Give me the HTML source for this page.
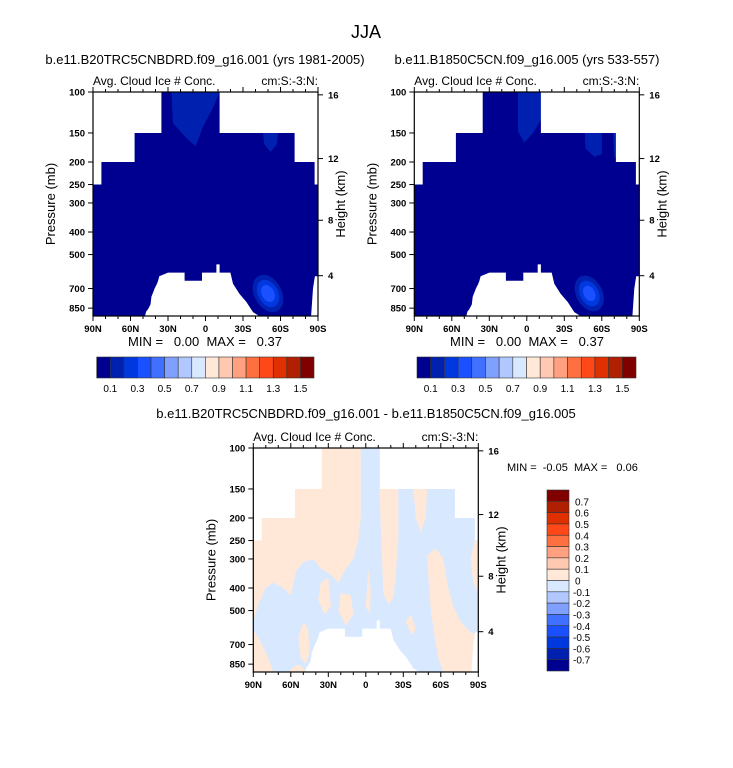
<!DOCTYPE html>
<html><head><meta charset="utf-8"><style>
html,body{margin:0;padding:0;background:#fff;}
svg{display:block;font-family:"Liberation Sans",Arial,sans-serif;}
.pre{white-space:pre;}
</style></head><body>
<svg id="chart" width="733" height="768" viewBox="0 0 733 768" xmlns="http://www.w3.org/2000/svg"></svg>
<script>
// ---- data ----
const pressureTicks = [100,150,200,250,300,400,500,700,850];
const heightTicks = [4,8,12,16];
const latTicks = [90,60,30,0,-30,-60,-90];
const latTickLabels = ["90N","60N","30N","0","30S","60S","90S"];
const levelColors = ["#000090","#0020b0","#0038e0","#1a50ff","#4070ff","#80a0ff","#b0c8ff","#d8e8ff","#ffe8d8","#ffc8b0","#ffa080","#ff7040","#ff4818","#e03000","#b02000","#800000"];
const absLabels = ["0.1","0.3","0.5","0.7","0.9","1.1","1.3","1.5"];
const diffLabels = ["0.7","0.6","0.5","0.4","0.3","0.2","0.1","0","-0.1","-0.2","-0.3","-0.4","-0.5","-0.6","-0.7"];
// masks (lat, pressure)
const topMaskLat = [[35.3,-11.3],[56.7,-71.3],[83.3,-87.3]];
const topMaskP = [[100,150],[150,200],[200,250]];
const mountain = [[48.4,920],[47.5,880],[46,860],[44,820],[43.3,760],[42,730],[40.7,700],[39,670],[38,650],[37,620],[30,598],[16.7,598],[16.7,648],[2.8,648],[2.8,598],[-8.7,598],[-8.7,551],[-11.3,551],[-11.3,598],[-19.9,598],[-22,667],[-27,736],[-32.7,800],[-38,884],[-43,920]];
const southEdge = [[-87.5,620],[-86,700],[-84.5,920],[-91,920],[-91,620]];
// model 1 features
const m1TopBlob = [[27.3,100],[26,136],[15.3,158],[7.9,171],[2,141],[-6,117],[-11.3,100]];
const m1RightBlob = [[-46,150],[-47,168],[-52,181],[-57,168],[-58,150]];
// model 2 features
const m2TopBlob = [[7,100],[-12.7,100],[-12,130],[-5,150],[2,165],[7,148]];
const m2RightBlob = [[-46.5,150],[-47,175],[-54,190],[-60,185],[-60,150]];
const m2RightBlob2 = [[-69,150],[-70,190],[-75,200],[-76,150]];
// low-level blob
const blobLat = -50, blobP = 735;
const blobRings = [[11,1],[8,2],[5,3]];
const blobMaxRing2 = [[10.5,1],[7.5,2],[4.5,3]];
// difference plot: peach (positive) regions over blue (negative) base
const diffPeach = [
 [[4,100],[4,200],[6,250],[10,300],[16,330],[22,380],[28,350],[36,330],[42,300],[50,310],[56,340],[60,430],[66,400],[74,380],[80,400],[86,470],[90,560],[90,100]],
 [[-11,100],[-11,160],[-13,300],[-14,420],[-18,470],[-22,440],[-24,350],[-26,250],[-26,100]],
 [[-38,150],[-40,200],[-44,230],[-48,200],[-49,150]],
 [[-49,290],[-56,270],[-62,300],[-66,400],[-70,480],[-76,560],[-84,620],[-90,640],[-90,920],[-62,920],[-58,800],[-55,650],[-52,500],[-50,350]],
 [[-87,250],[-84,300],[-86,380],[-90,420],[-90,250]],
 [[90,610],[86,650],[82,720],[78,800],[74,920],[90,920]],
 [[62,920],[56,860],[52,860],[48,920]],
 [[50,560],[46,600],[45,750],[48,850],[52,800],[54,650]],
 [[36,380],[30,360],[28,480],[33,520],[38,450]],
 [[20,420],[12,430],[10,520],[16,580],[22,500]],
 [[-2,330],[-4,420],[-3,520],[0,480]],
 [[-32,560],[-36,520],[-40,600],[-37,640]]
];
const diffBlueExtra = [[[84,200],[80,200],[80,215],[84,230]]];

// ---- drawing ----
const NS="http://www.w3.org/2000/svg";
const svg=document.getElementById('chart');
function el(tag,attrs,parent){const e=document.createElementNS(NS,tag);for(const k in attrs)e.setAttribute(k,attrs[k]);(parent||svg).appendChild(e);return e;}
function txt(s,x,y,size,anchor,parent,extra){const t=el('text',Object.assign({x:x,y:y,'font-size':size,'text-anchor':anchor||'start',fill:'#000'},extra||{}),parent);t.textContent=s;return t;}
function zToP(z){return z<=11?1013.25*Math.pow(1-z/44.33,5.256):226.3*Math.exp(-(z-11)/6.34);}

let clipId=0;
function makePlot(ox,oy,name){
  const W=225,H=224,K=101;
  const xs=lat=>ox+(90-lat)/180*W;
  const ys=p=>oy+K*Math.log(p/100);
  const g=el('g',{},svg);
  
  
  const cid='clip'+(clipId++);
  const defs=el('defs',{},g);
  const cp=el('clipPath',{id:cid},defs);
  el('rect',{x:ox,y:oy,width:W,height:H},cp);
  const plotArea=el('g',{'clip-path':'url(#'+cid+')'},g);
  
  
  const poly=(pts,fill,par,nm)=>{const p=el('polygon',{points:pts.map(q=>xs(q[0]).toFixed(1)+','+ys(q[1]).toFixed(1)).join(' '),fill:fill},par||plotArea);return p;};
  return {ox,oy,W,H,xs,ys,g,plotArea,poly};
}
function finishPlot(P){
  const {ox,oy,W,H,xs,ys,g,poly}=P;
  const mk=el('g',{},P.plotArea);
  
  
  topMaskLat.forEach((r,i)=>{
    const p0=topMaskP[i][0]-2, p1=topMaskP[i][1];
    poly([[91,p0],[r[0],p0],[r[0],p1],[91,p1]],'#fff',mk,'mask-north');
    poly([[-91,p0],[r[1],p0],[r[1],p1],[-91,p1]],'#fff',mk,'mask-south');
  });
  poly(mountain,'#fff',mk,'topography-mask');
  poly(southEdge,'#fff',mk,'antarctic-mask');
  const fr=el('rect',{x:ox,y:oy,width:W,height:H,fill:'none',stroke:'#000','stroke-width':1.2},g);
  
  
  pressureTicks.forEach(p=>{
    const y=ys(p);
    el('line',{x1:ox-5,y1:y,x2:ox,y2:y,stroke:'#000','stroke-width':1},g);
    const t=txt(String(p),ox-8,y+3.5,9.5,'end',g,{'font-weight':'bold'});
    
    
  });
  heightTicks.forEach(z=>{
    const y=ys(zToP(z));
    el('line',{x1:ox+W,y1:y,x2:ox+W+5,y2:y,stroke:'#000','stroke-width':1},g);
    const t=txt(String(z),ox+W+10,y+3.5,9.5,'start',g,{'font-weight':'bold'});
    
    
  });
  for(let lat=90;lat>=-90;lat-=10){
    const x=xs(lat), major=lat%30===0;
    const L=major?5:3;
    el('line',{x1:x,y1:oy+H,x2:x,y2:oy+H+L,stroke:'#000','stroke-width':1},g);
    el('line',{x1:x,y1:oy,x2:x,y2:oy-L,stroke:'#000','stroke-width':1},g);
  }
  latTicks.forEach((lat,i)=>{
    const t=txt(latTickLabels[i],xs(lat),oy+H+16,9.5,'middle',g,{'font-weight':'bold'});
    
    
  });
  let t=txt('Avg. Cloud Ice # Conc.',ox,oy-7,12,'start',g);
  
  
  t=txt('cm:S:-3:N:',ox+W,oy-7,12,'end',g);
  
  
  t=txt('Pressure (mb)',0,0,13,'middle',g,{transform:'translate('+(ox-38)+','+(oy+H/2)+') rotate(-90)'});
  
  
  t=txt('Height (km)',0,0,13,'middle',g,{transform:'translate('+(ox+W+27)+','+(oy+H/2)+') rotate(-90)'});
  
  
}
function blob(P,rings){
  const cx=P.xs(blobLat), cy=P.ys(blobP);
  rings.forEach(r=>{
    const rx=(P.xs(0)-P.xs(r[0]));
    const e=el('ellipse',{cx:cx,cy:cy,rx:rx,ry:rx*1.45,fill:levelColors[r[1]],transform:'rotate(-28 '+cx+' '+cy+')'},P.plotArea);
    
    
  });
}
function hColorbar(x0,y0,w,h,name){
  const g=el('g',{},svg);
  
  
  const bw=w/levelColors.length;
  levelColors.forEach((c,i)=>{
    const r=el('rect',{x:x0+i*bw,y:y0,width:bw,height:h,fill:c,stroke:'#333','stroke-width':0.6},g);
    
    
  });
  absLabels.forEach((s,i)=>{
    const t=txt(s,x0+(2*i+1)*bw,y0+h+14,10,'middle',g);
    
    
  });
}

let t=txt('JJA',366,38,18,'middle');



// Plot 1
const P1=makePlot(93,92,'panel-model-1');
P1.poly([[90,100],[-90,100],[-90,920],[90,920]],levelColors[0],null,'base-fill');
P1.poly(m1TopBlob,levelColors[1]);
P1.poly(m1RightBlob,levelColors[1]);
blob(P1,blobRings);
finishPlot(P1);
t=txt('b.e11.B20TRC5CNBDRD.f09_g16.001 (yrs 1981-2005)',205,64,13,'middle');


t=txt('MIN =   0.00  MAX =   0.37',205,346,13,'middle',null,{'class':'pre'});


hColorbar(96.7,357,217.3,21,'colorbar-1');

// Plot 2
const P2=makePlot(414.3,92,'panel-model-2');
P2.poly([[90,100],[-90,100],[-90,920],[90,920]],levelColors[0],null,'base-fill');
P2.poly(m2TopBlob,levelColors[1]);
P2.poly(m2RightBlob,levelColors[1]);
P2.poly(m2RightBlob2,levelColors[1]);
blob(P2,blobMaxRing2);
finishPlot(P2);
t=txt('b.e11.B1850C5CN.f09_g16.005 (yrs 533-557)',527,64,13,'middle');


t=txt('MIN =   0.00  MAX =   0.37',527,346,13,'middle',null,{'class':'pre'});


hColorbar(417,357,219,21,'colorbar-2');

// Plot 3 difference
const P3=makePlot(253.3,448,'panel-difference');
P3.poly([[90,100],[-90,100],[-90,920],[90,920]],levelColors[7],null,'base-fill');
diffBlueExtra.forEach(p=>P3.poly(p,levelColors[7]));
diffPeach.forEach(p=>P3.poly(p,levelColors[8]));
finishPlot(P3);
t=txt('b.e11.B20TRC5CNBDRD.f09_g16.001 - b.e11.B1850C5CN.f09_g16.005',366,418,13,'middle');


t=txt('MIN =  -0.05  MAX =   0.06',507,471,11,'start',null,{'class':'pre'});


(function(){
  const g=el('g',{},svg);
  
  
  const x0=547,y0=490,w=22,h=181,bh=h/16;
  levelColors.slice().reverse().forEach((c,i)=>{
    const r=el('rect',{x:x0,y:y0+i*bh,width:w,height:bh,fill:c,stroke:'#333','stroke-width':0.6},g);
    
    
  });
  diffLabels.forEach((s,i)=>{
    const tt=txt(s,s.startsWith('-')?573:575,y0+(i+1)*bh+4,10,'start',g);
    
    
  });
})();
</script>
</body></html>
